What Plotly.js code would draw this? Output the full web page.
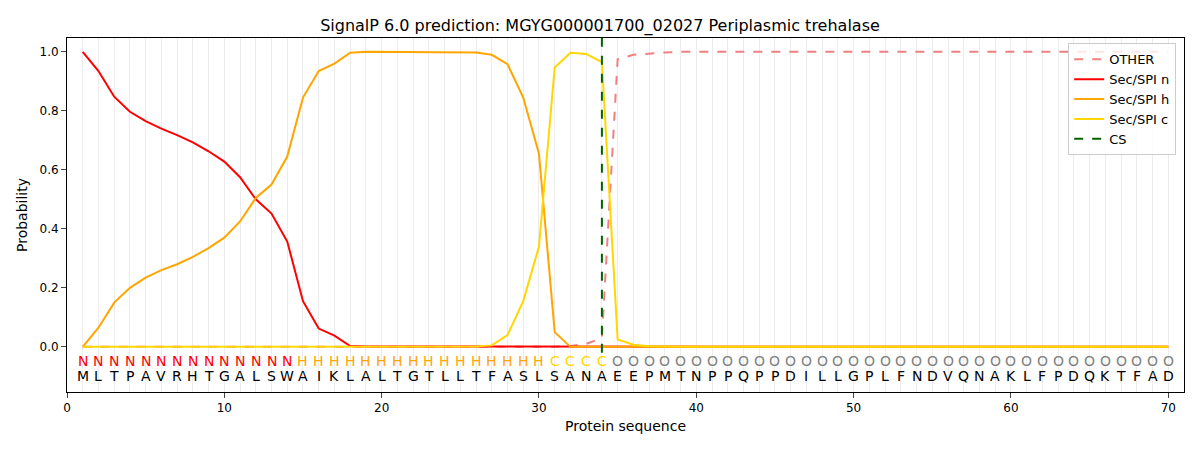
<!DOCTYPE html>
<html><head><meta charset="utf-8">
<script src="https://cdn.plot.ly/plotly-3.0.1.min.js"></script>
<style>body{margin:0}</style></head>
<body><div id="chart" style="width:1200px;height:450px"></div>
<script>
const seq = 'MLTPAVRHTGALSWAIKLALTGTLLTFASLSANAEEPMTNPPQPPDILLGPLFNDVQNAKLFPDQKTFAD'.split('');
const labels = 'NNNNNNNNNNNNNNHHHHHHHHHHHHHHHHCCCCOOOOOOOOOOOOOOOOOOOOOOOOOOOOOOOOOOOO'.split('');
const pos = seq.map((_, i) => i + 1);
const secN = [1.0,0.935,0.848,0.797,0.765,0.74,0.718,0.693,0.663,0.628,0.575,0.5,0.452,0.357,0.155,0.062,0.038,0.003,0.001,0.001,0.001,0.001,0.001,0.001,0.001,0.001,0.0,0.0,0.0,0.0,0.0,0.0];
const secH = [0.0,0.065,0.15,0.2,0.235,0.26,0.28,0.305,0.335,0.37,0.425,0.505,0.55,0.645,0.845,0.935,0.96,0.997,1.0,1.0,1.0,1.0,1.0,1.0,1.0,0.998,0.99,0.958,0.845,0.655,0.05,0.0];
const secC = [0,0,0,0,0,0,0,0,0,0,0,0,0,0,0,0,0,0,0,0,0,0,0,0,0,0.001,0.005,0.04,0.155,0.34,0.947,0.997,0.993,0.965,0.025,0.007,0.002];
const other = [0,0,0,0,0,0,0,0,0,0,0,0,0,0,0,0,0,0,0,0,0,0,0,0,0,0,0,0,0,0,0,0.003,0.01,0.03,0.975,0.99,0.995,0.998];
const pad = (a) => pos.map(i => (i <= a.length ? a[i - 1] : 0));
const padOther = pos.map(i => (i <= other.length ? other[i - 1] : 1.0));
const csPos = 34;
const labColor = {N: 'red', H: 'orange', C: 'gold', O: 'grey'};

const traces = [
  {x: pos, y: padOther, name: 'OTHER', mode: 'lines', line: {color: 'lightcoral', dash: 'dash', width: 2}},
  {x: pos, y: pad(secN), name: 'Sec/SPI n', mode: 'lines', line: {color: 'red', width: 2}},
  {x: pos, y: pad(secH), name: 'Sec/SPI h', mode: 'lines', line: {color: 'orange', width: 2}},
  {x: pos, y: pad(secC), name: 'Sec/SPI c', mode: 'lines', line: {color: 'gold', width: 2}},
  {x: [csPos, csPos], y: [-0.02, 1.05], name: 'CS', mode: 'lines', line: {color: 'darkgreen', dash: 'dash', width: 2}},
];

const annotations = [];
pos.forEach((p, i) => {
  annotations.push({x: p, y: -0.047, text: labels[i], showarrow: false, font: {size: 14, color: labColor[labels[i]], family: 'DejaVu Sans'}});
  annotations.push({x: p, y: -0.1, text: seq[i], showarrow: false, font: {size: 14, color: 'black', family: 'DejaVu Sans'}});
});

Plotly.newPlot('chart', traces, {
  width: 1200, height: 450,
  margin: {l: 67, r: 16, t: 38, b: 58},
  paper_bgcolor: 'white', plot_bgcolor: 'white',
  font: {family: 'DejaVu Sans', size: 12, color: 'black'},
  title: {text: 'SignalP 6.0 prediction: MGYG000001700_02027 Periplasmic trehalase', x: 0.5, y: 0.955, font: {size: 16}},
  xaxis: {range: [0, 71], tickvals: [0,10,20,30,40,50,60,70], ticks: 'outside', showgrid: false, zeroline: false,
          showline: true, mirror: true, linecolor: 'black',
          minor: {dtick: 1, tick0: 0, showgrid: true, gridcolor: '#ececec', gridwidth: 1},
          title: {text: 'Protein sequence', standoff: 6}},
  yaxis: {range: [-0.153, 1.047], tickvals: [0,0.2,0.4,0.6,0.8,1.0], ticktext: ['0.0','0.2','0.4','0.6','0.8','1.0'],
          ticks: 'outside', showgrid: false, zeroline: false, showline: true, mirror: true, linecolor: 'black',
          title: {text: 'Probability', standoff: 8}},
  legend: {x: 0.993, y: 0.985, xanchor: 'right', yanchor: 'top', bgcolor: 'rgba(255,255,255,0.8)', bordercolor: '#ccc', borderwidth: 1, font: {size: 13}},
  annotations: annotations,
  showlegend: true,
}, {staticPlot: true});
</script></body></html>
